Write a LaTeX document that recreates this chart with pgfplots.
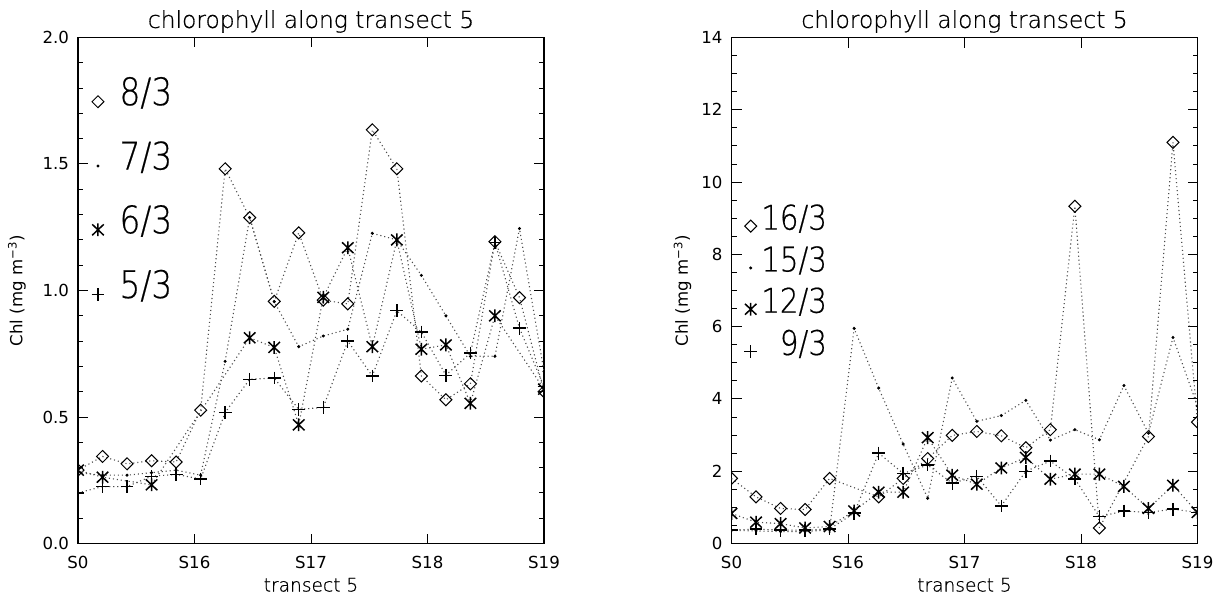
\documentclass[border=0pt]{standalone}
\usepackage{fontspec}
\setmainfont{DejaVu Sans}
\newfontfamily\legfont[FakeStretch=0.86, FakeBold=0.5]{DejaVu Sans ExtraLight}
\newfontfamily\thinfont[FakeBold=0.6]{DejaVu Sans ExtraLight}
\usepackage{pgfplots}
\pgfplotsset{compat=1.18}

\pgfdeclareplotmark{ast}{%
  \pgfpathmoveto{\pgfqpoint{0pt}{\pgfplotmarksize}}%
  \pgfpathlineto{\pgfqpoint{0pt}{-\pgfplotmarksize}}%
  \pgfpathmoveto{\pgfqpoint{-0.9\pgfplotmarksize}{-0.85\pgfplotmarksize}}%
  \pgfpathlineto{\pgfqpoint{0.9\pgfplotmarksize}{0.85\pgfplotmarksize}}%
  \pgfpathmoveto{\pgfqpoint{-0.9\pgfplotmarksize}{0.85\pgfplotmarksize}}%
  \pgfpathlineto{\pgfqpoint{0.9\pgfplotmarksize}{-0.85\pgfplotmarksize}}%
  \pgfusepathqstroke}

\pgfplotsset{
  chl/.style={
    scale only axis, width=233pt, height=253pt,
    xmin=0, xmax=19,
    xtick={0,4.75,9.5,14.25,19}, xticklabels={S0,S16,S17,S18,S19},
    tick align=inside, major tick length=5pt, minor tick length=2.5pt,
    tick style={black, line width=0.5pt},
    axis line style={line width=0.6pt},
    tick label style={font=\fontsize{8.3}{10}\selectfont},
    /pgf/number format/assume math mode=true,
    xticklabel style={anchor=base, yshift=-12.5pt},
    yticklabel style={anchor=east, xshift=-1pt},
    every axis title/.style={at={(axis description cs:0.5,1)}, anchor=base, yshift=4.8pt, font=\thinfont\fontsize{11.7}{14}\selectfont},
    title={chlorophyll along transect 5},
    every axis x label/.style={at={(axis description cs:0.5,0)}, anchor=base, yshift=-24pt, font=\thinfont\fontsize{9.3}{11}\selectfont},
    xlabel={transect 5},
    ylabel={Chl (mg m\textsuperscript{−3})},
    clip marker paths=true,
    legend image code/.code={\draw[##1] plot coordinates {(0pt,-1.5pt)};},
  },
  dl/.style={line width=0.55pt, dash pattern=on 0.55pt off 1.45pt, black!70},
  sD/.style={dl, mark=square, mark size=2.12pt, mark options={solid, rotate=45, black, line width=0.5pt}},
  sDot/.style={dl, mark=*, mark size=0.45pt, mark options={solid, black}},
  sA/.style={dl, mark=ast, mark size=3.2pt, mark options={solid, black, line width=0.75pt}},
  sP/.style={dl, mark=+, mark size=3.2pt, mark options={solid, black, line width=0.7pt}},
}

\begin{document}
\begin{tikzpicture}
\path[use as bounding box] (0,0) rectangle (610pt,300pt);

\begin{axis}[chl, at={(39pt,28.25pt)}, anchor=south west,
  ymin=0, ymax=2, ytick={0,0.5,1,1.5,2}, minor y tick num=4,
  yticklabel style={/pgf/number format/fixed, /pgf/number format/fixed zerofill, /pgf/number format/precision=1},
  every axis y label/.style={at={(axis description cs:-0.131,0.5)}, rotate=90, anchor=center, font=\fontsize{8.3}{10}\selectfont},
  legend style={at={(axis description cs:0.0283,0.8966)}, anchor=north west, draw=none, fill=none, inner sep=0pt,
    row sep=23.4pt, column sep=7.6pt, font=\legfont\fontsize{19}{19}\selectfont,
    nodes={inner sep=0pt, text height=0.75em, text depth=0.1em}},
  legend cell align=left]
\addplot[sD] coordinates {(0,0.29)(1,0.344)(2,0.315)(3,0.327)(4,0.322)(5,0.527)(6,1.481)(7,1.288)(8,0.957)(9,1.228)(10,0.962)(11,0.947)(12,1.635)(13,1.481)(14,0.662)(15,0.568)(16,0.631)(17,1.193)(18,0.972)(19,0.60)};
\addlegendentry{8/3}
\addplot[sDot] coordinates {(0,0.28)(1,0.27)(2,0.27)(3,0.28)(4,0.29)(5,0.27)(6,0.72)(7,1.288)(8,0.956)(9,0.778)(10,0.82)(11,0.847)(12,1.226)(13,1.20)(14,1.06)(15,0.90)(16,0.74)(17,0.74)(18,1.245)(19,0.68)};
\addlegendentry{7/3}
\addplot[sA] coordinates {(0,0.29)(1,0.262)(3,0.232)(7,0.813)(8,0.775)(9,0.469)(10,0.973)(11,1.169)(12,0.778)(13,1.2)(14,0.768)(15,0.785)(16,0.554)(17,0.90)(19,0.61)};
\addlegendentry{6/3}
\addplot[sP] coordinates {(0,0.2)(1,0.225)(2,0.225)(3,0.266)(4,0.273)(5,0.255)(6,0.518)(7,0.649)(8,0.654)(9,0.530)(10,0.538)(11,0.80)(12,0.662)(13,0.92)(14,0.836)(15,0.665)(16,0.753)(17,1.19)(18,0.851)(19,0.62)};
\addlegendentry{5/3}
\end{axis}

\begin{axis}[chl, at={(365.75pt,28.25pt)}, anchor=south west,
  ymin=0, ymax=14, ytick={0,2,...,14}, minor y tick num=3,
  every axis y label/.style={at={(axis description cs:-0.105,0.5)}, rotate=90, anchor=center, font=\fontsize{8.3}{10}\selectfont},
  legend style={at={(axis description cs:0.0266,0.6507)}, anchor=north west, draw=none, fill=none, inner sep=0pt,
    row sep=12.15pt, column sep=2.1pt, font=\legfont\fontsize{17}{17}\selectfont,
    nodes={inner sep=0pt, text height=0.75em, text depth=0.1em}},
  legend cell align=right]
\addplot[sD] coordinates {(0,1.80)(1,1.29)(2,0.97)(3,0.94)(4,1.80)(6,1.29)(7,1.80)(8,2.35)(9,2.99)(10,3.10)(11,2.98)(12,2.65)(13,3.15)(14,9.33)(15,0.43)(17,2.96)(18,11.1)(19,3.36)};
\addlegendentry{16/3}
\addplot[sDot] coordinates {(0,0.36)(1,0.35)(2,0.33)(3,0.33)(4,0.38)(5,5.95)(6,4.3)(7,2.75)(8,1.25)(9,4.58)(10,3.38)(11,3.54)(12,3.96)(13,2.86)(14,3.15)(15,2.87)(16,4.37)(17,3.05)(18,5.70)(19,3.8)};
\addlegendentry{15/3}
\addplot[sA] coordinates {(0,0.83)(1,0.59)(2,0.55)(3,0.43)(4,0.47)(5,0.90)(6,1.42)(7,1.42)(8,2.93)(9,1.89)(10,1.64)(11,2.09)(12,2.38)(13,1.78)(14,1.92)(15,1.92)(16,1.58)(17,0.97)(18,1.61)(19,0.86)};
\addlegendentry{12/3}
\addplot[sP] coordinates {(0,0.37)(1,0.40)(2,0.37)(3,0.37)(4,0.40)(5,0.84)(6,2.50)(7,1.94)(8,2.17)(9,1.67)(10,1.86)(11,1.04)(12,2.0)(13,2.28)(14,1.79)(15,0.74)(16,0.90)(17,0.86)(18,0.95)(19,0.86)};
\addlegendentry{\ 9/3}
\end{axis}
\end{tikzpicture}
\end{document}
